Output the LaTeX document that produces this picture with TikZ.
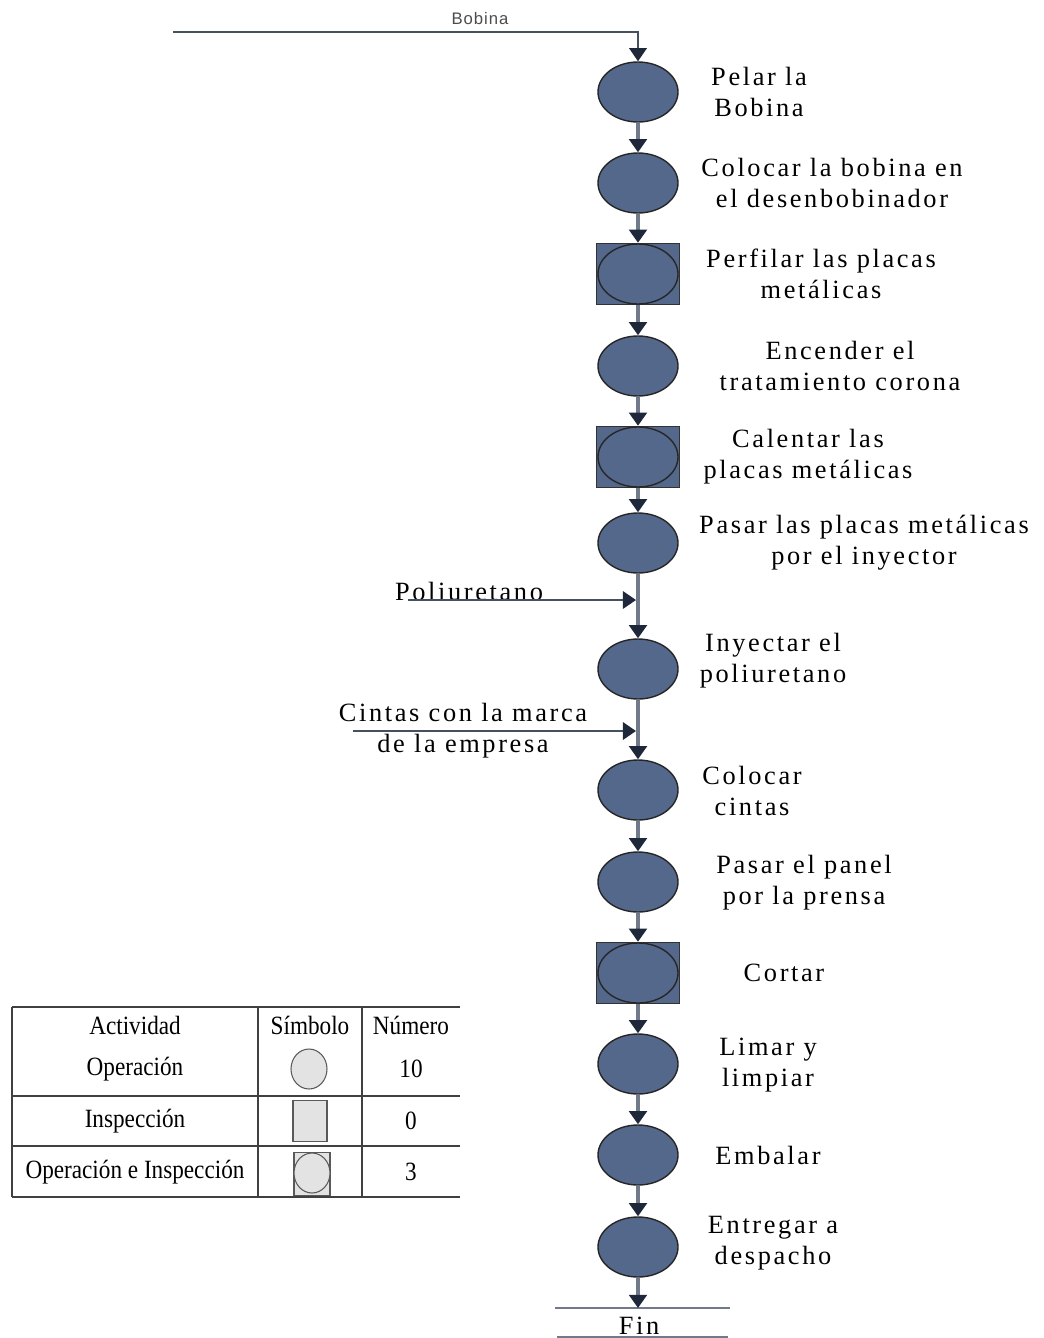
\documentclass[tikz,border=0pt]{standalone}
\usepackage{fontspec}
\setmainfont{Liberation Serif}
\newfontfamily\lblfont[LetterSpace=10]{Liberation Serif}
\newfontfamily\tabfont[FakeStretch=0.88]{Liberation Serif}
\newfontfamily\bobfont[LetterSpace=6]{Liberation Sans}
\usetikzlibrary{arrows.meta,positioning,shapes.geometric}
\definecolor{opblue}{RGB}{84,104,140}
\definecolor{flowgray}{RGB}{112,122,138}
\definecolor{feedgray}{RGB}{70,80,96}
\definecolor{tipdark}{RGB}{30,40,58}
\tikzset{
  op/.style={ellipse,draw=black!85,fill=opblue,minimum width=1.6cm,minimum height=1.2cm,inner sep=0pt,line width=0.8pt},
  insp/.style={rectangle,draw=black!80,fill=opblue,minimum width=1.66cm,minimum height=1.22cm,inner sep=0pt,line width=0.8pt},
  lbl/.style={font=\lblfont\fontsize{15}{17.6}\selectfont,align=center,inner sep=0pt},
  tab/.style={font=\tabfont\fontsize{15}{17}\selectfont,inner sep=0pt},
  flow/.style={draw=flowgray,line width=2pt,-{Triangle[length=7.5pt,width=10pt,color=tipdark]}},
  feed/.style={draw=feedgray,line width=1.1pt,-{Triangle[length=7.5pt,width=10pt,color=tipdark]}},
  plain/.style={draw=flowgray,line width=1pt},
  rule/.style={draw=black!75,line width=0.6pt},
  symop/.style={ellipse,draw=black!65,fill=gray!22,minimum width=0.72cm,minimum height=0.8cm,inner sep=0pt,line width=0.6pt},
  symin/.style={rectangle,draw=black!65,fill=gray!22,minimum width=0.68cm,minimum height=0.82cm,inner sep=0pt,line width=0.6pt}
}

\begin{document}
\begin{tikzpicture}[x=0.2mm,y=-0.2mm]
\useasboundingbox (0,0) rectangle (1043,1338);

% operaciones
\node[op] (e1) at (638,92) {};
\node[op] (e2) at (638,183) {};
\node[insp] (s3) at (638,274) {}; \node[op] (e3) at (638,274) {};
\node[op] (e4) at (638,366) {};
\node[insp] (s5) at (638,457) {}; \node[op] (e5) at (638,457) {};
\node[op] (e6) at (638,543) {};
\node[op] (e7) at (638,669) {};
\node[op] (e8) at (638,790) {};
\node[op] (e9) at (638,882) {};
\node[insp] (s10) at (638,973) {}; \node[op] (e10) at (638,973) {};
\node[op] (e11) at (638,1064) {};
\node[op] (e12) at (638,1155) {};
\node[op] (e13) at (638,1247) {};

% textos
\node[lbl] (t1) at (759,92) {Pelar la\\Bobina};
\node[lbl] (t2) at (832,183) {Colocar la bobina en\\el desenbobinador};
\node[lbl] (t3) at (821,274) {Perfilar las placas\\metálicas};
\node[lbl] (t4) at (840,366) {Encender el\\tratamiento corona};
\node[lbl] (t5) at (808,457) {Calentar las\\placas metálicas};
\node[lbl] (t6) at (864,543) {Pasar las placas metálicas\\por el inyector};
\node[lbl] (t7) at (773,661) {Inyectar el\\poliuretano};
\node[lbl] (t8) at (752,791) {Colocar\\cintas};
\node[lbl] (t9) at (804,883) {Pasar el panel\\por la prensa};
\node[lbl] (t10) at (784,973) {Cortar};
\node[lbl] (t11) at (768,1065) {Limar y\\limpiar};
\node[lbl] (t12) at (768,1155) {Embalar};
\node[lbl] (t13) at (773,1243) {Entregar a\\despacho};

% entrada bobina
\coordinate (b0) at (173,32);
\node[font=\bobfont\fontsize{9.5}{11}\selectfont,text=black!70,inner sep=0pt] (bob) at (480,19) {Bobina};
\draw[feed] (b0) -| (e1);

% flujo principal
\draw[flow] (e1) -- (e2);
\draw[flow] (e2) -- (s3);
\draw[flow] (s3) -- (e4);
\draw[flow] (e4) -- (s5);
\draw[flow] (s5) -- (e6);
\draw[flow] (e6) -- (e7);
\draw[flow] (e7) -- (e8);
\draw[flow] (e8) -- (e9);
\draw[flow] (e9) -- (s10);
\draw[flow] (s10) -- (e11);
\draw[flow] (e11) -- (e12);
\draw[flow] (e12) -- (e13);

% entradas laterales
\node[lbl] (poli) at (469,591) {Poliuretano};
\coordinate (p0) at (408,600);
\coordinate (p1) at (636,600);
\draw[feed] (p0) -- (p1);
\node[lbl] (cin) at (463,731) {Cintas con la marca\\de la empresa};
\coordinate (c0) at (353,731);
\coordinate (c1) at (636,731);
\draw[feed] (c0) -- (c1);

% fin
\coordinate (f0) at (555,1308);
\coordinate (f1) at (730,1308);
\coordinate (fe) at (638,1308);
\draw[plain] (f0) -- (f1);
\draw[flow] (e13) -- (fe);
\node[lbl] (fin) at (639,1326) {Fin};
\draw[plain] (557,1337) -- (728,1337);

% leyenda
\draw[rule] (12,1007) -- (460,1007);
\draw[rule] (12,1096) -- (460,1096);
\draw[rule] (12,1146) -- (460,1146);
\draw[rule] (12,1197) -- (460,1197);
\draw[rule] (12,1007) -- (12,1197);
\draw[rule] (258,1007) -- (258,1197);
\draw[rule] (362,1007) -- (362,1197);
\node[tab] (h1) at (135,1025) {Actividad};
\node[tab] (h2) at (310,1025) {Símbolo};
\node[tab] (h3) at (411,1025) {Número};
\node[tab] (a1) at (135,1069) {Operación};
\node[tab] (a2) at (135,1121) {Inspección};
\node[tab] (a3) at (135,1172) {Operación e Inspección};
\node[symop] (y1) at (309,1069) {};
\node[symin] (y2) at (310,1121) {};
\node[symin,minimum width=0.72cm,minimum height=0.86cm] (y3) at (312,1174) {};
\node[symop] (y3c) at (312,1173) {};
\node[tab] (n1) at (411,1069) {10};
\node[tab] (n2) at (411,1121) {0};
\node[tab] (n3) at (411,1172) {3};
\end{tikzpicture}
\end{document}
